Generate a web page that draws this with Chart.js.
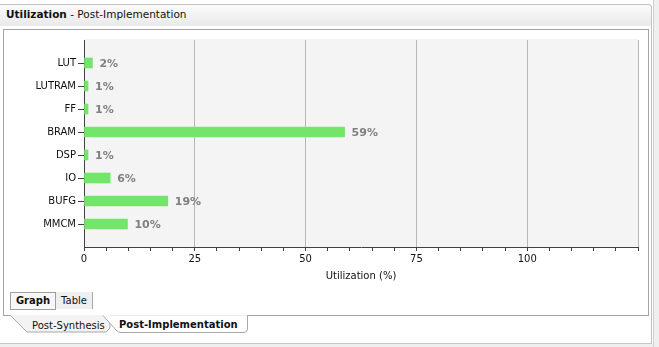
<!DOCTYPE html>
<html>
<head>
<meta charset="utf-8">
<script src="https://cdn.jsdelivr.net/npm/chart.js@4/dist/chart.umd.min.js"></script>
<style>
  html, body { margin:0; padding:0; background:#fff; }
  body { width:659px; height:347px; position:relative; overflow:hidden; font-family:"DejaVu Sans", sans-serif; }
  .abs { position:absolute; }
  #titlebar { left:0; top:4px; width:651px; height:21px; border-top:1px solid #c4c4c4; border-right:1px solid #c4c4c4; border-bottom:1px solid #d8d8d8;
    border-top-right-radius:4px; background:linear-gradient(#fbfbfb, #e9e9e9); }
  #titletext { left:6px; top:8px; font-size:10.5px; color:#111; white-space:nowrap; }
  #content { left:0; top:26px; width:651px; height:317px; border-right:1px solid #c0c0c0; border-bottom:1px solid #c8c8c8; background:#fff; }
  #strip { left:653px; top:0; width:6px; height:347px; background:#efefef; border-left:1px solid #d0d0d0; }
  #bottomstrip { left:0; top:344px; width:653px; height:3px; background:#efefef; }
  #panel { left:3px; top:29px; width:644px; height:285px; border:1px solid #a4a4a4; background:#fff; }
  #btns { left:10px; top:292px; height:17px; }
  .btn { position:absolute; top:0; height:17px; font-size:10px; line-height:17px; color:#111; text-align:center; }
  #bGraph { left:0; width:44px; border:1px solid #a0a0a0; height:16px; background:#f7f7f7; font-weight:bold; line-height:16px; }
  #bTable { left:46px; width:36px; background:#efefef; border-right:1px solid #a8a8a8; }
  .tab { position:absolute; font-size:10px; color:#111; white-space:nowrap; }
  canvas { position:absolute; left:5px; top:30px; }
</style>
</head>
<body>
<div id="titlebar" class="abs"></div>
<div id="titletext" class="abs"><b>Utilization</b> - Post-Implementation</div>
<div id="content" class="abs"></div>
<div id="strip" class="abs"></div>
<div id="bottomstrip" class="abs"></div>
<div id="panel" class="abs"></div>
<svg class="abs" style="left:0;top:313px" width="260" height="24">
  <path d="M10,2 L27,19 L106,19 L110,15 L110,2" fill="#f3f3f3" stroke="#a8a8a8" stroke-width="1"/>
  <path d="M103,2.5 L116,17 Q118,19.5 121,19.5 L244,19.5 Q247.5,19.5 247.5,16 L247.5,2.5" fill="#ffffff" stroke="#a8a8a8" stroke-width="1"/>
  <rect x="104" y="0" width="143" height="2.6" fill="#fff"/>
</svg>
<div class="tab" style="left:32px;top:320px;">Post-Synthesis</div>
<div class="tab" style="left:119px;top:319px;font-weight:bold;">Post-Implementation</div>
<div id="btns" class="abs">
  <div id="bGraph" class="btn">Graph</div>
  <div id="bTable" class="btn">Table</div>
</div>
<canvas id="c" width="642" height="260"></canvas>
<script>
const categories = ["LUT", "LUTRAM", "FF", "BRAM", "DSP", "IO", "BUFG", "MMCM"];
const utilization = [1.9, 0.9, 0.9, 58.8, 0.9, 5.9, 18.9, 9.8];
const valueLabels = ["2%", "1%", "1%", "59%", "1%", "6%", "19%", "10%"];
const xTickLabels = [0, 25, 50, 75, 100];
const xAxisTitle = "Utilization (%)";

const bgPlugin = {
  id: 'bg',
  beforeDraw(chart) {
    const a = chart.chartArea, ctx = chart.ctx;
    ctx.save();
    ctx.fillStyle = '#f4f4f4';
    ctx.fillRect(a.left, a.top - 1, a.right - a.left, a.bottom - a.top + 1);
    ctx.restore();
  }
};
const labelPlugin = {
  id: 'vlabels',
  afterDatasetsDraw(chart) {
    const ctx = chart.ctx;
    const meta = chart.getDatasetMeta(0);
    ctx.save();
    ctx.font = 'bold 11px "DejaVu Sans"';
    ctx.fillStyle = '#808080';
    ctx.textAlign = 'left';
    ctx.textBaseline = 'middle';
    meta.data.forEach((bar, i) => {
      ctx.fillText(valueLabels[i], bar.x + 7, bar.y + 1);
    });
    ctx.restore();
  }
};

new Chart(document.getElementById('c'), {
  type: 'bar',
  data: {
    datasets: [{
      data: categories.map((c, i) => ({ x: utilization[i], y: i })),
      backgroundColor: '#73e56b',
      borderWidth: 0,
      barThickness: 10
    }]
  },
  options: {
    indexAxis: 'y',
    responsive: false,
    devicePixelRatio: 1,
    animation: false,
    events: [],
    layout: { padding: { top: 10, right: 9, left: 0, bottom: 0 } },
    plugins: { legend: { display: false }, tooltip: { enabled: false } },
    scales: {
      x: {
        type: 'linear', min: 0, max: 125,
        ticks: {
          stepSize: 5, autoSkip: false, maxRotation: 0, padding: 2,
          color: '#111', font: { family: 'DejaVu Sans', size: 10 },
          callback: (v) => xTickLabels.includes(v) ? String(v) : ''
        },
        grid: {
          drawOnChartArea: true, drawTicks: true, tickLength: 4, tickColor: '#404040',
          color: (ctx) => (ctx.tick && ctx.tick.value % 25 === 0 && ctx.tick.value !== 0) ? '#b8b8b8' : 'rgba(0,0,0,0)'
        },
        border: { display: true, color: '#404040' },
        title: { display: true, text: xAxisTitle, color: '#111', font: { family: 'DejaVu Sans', size: 10 }, padding: { top: 0, bottom: 8 } },
        afterFit: (s) => { s.height = 43; }
      },
      y: {
        type: 'linear', min: -1, max: 8, reverse: true, offset: false,
        afterBuildTicks: (s) => { s.ticks = categories.map((c, i) => ({ value: i })); },
        ticks: {
          autoSkip: false, padding: 2, color: '#111', font: { family: 'DejaVu Sans', size: 10 },
          callback: (v) => categories[v] !== undefined ? categories[v] : ''
        },
        grid: { offset: false, drawOnChartArea: false, drawTicks: true, tickLength: 6, tickColor: '#404040' },
        border: { display: true, color: '#404040' },
        afterFit: (s) => { s.width = 79; }
      }
    }
  },
  plugins: [bgPlugin, labelPlugin]
});
</script>
</body>
</html>
